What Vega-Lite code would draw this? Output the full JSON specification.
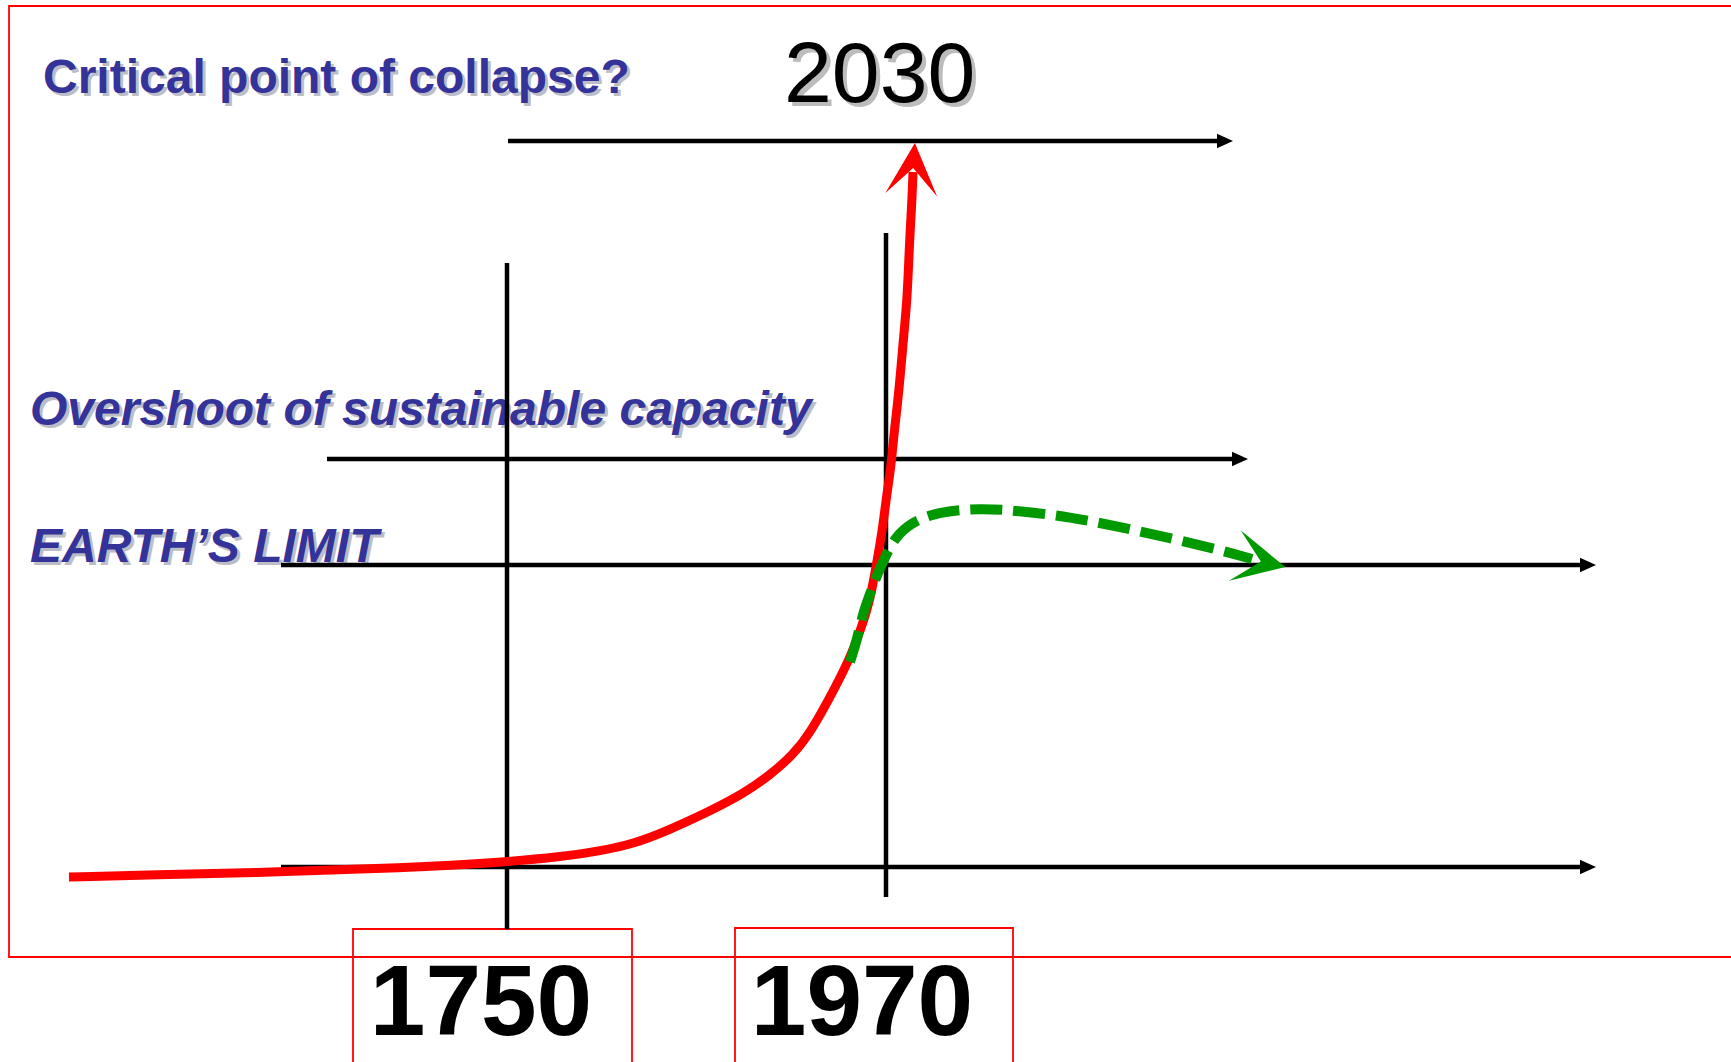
{
  "$schema": "https://vega.github.io/schema/vega-lite/v6.json",
  "width": 1731,
  "height": 1062,
  "autosize": {"type": "fit", "contains": "padding"},
  "padding": 0,
  "background": "white",
  "config": {"view": {"stroke": null}},
  "datasets": {
    "frames": [
      {"box": "slide", "x": 9, "x2": 1780, "y": 6, "y2": 957},
      {"box": "1750", "x": 353, "x2": 632, "y": 929, "y2": 1100},
      {"box": "1970", "x": 735, "x2": 1013, "y": 928, "y2": 1100}
    ],
    "guides": [
      {"line": "2030 level", "x": 508, "x2": 1225, "y": 141, "y2": 141},
      {"line": "overshoot", "x": 327, "x2": 1240, "y": 459, "y2": 459},
      {"line": "earth limit", "x": 281, "x2": 1588, "y": 565, "y2": 565},
      {"line": "baseline", "x": 281, "x2": 1588, "y": 867, "y2": 867},
      {"line": "1750", "x": 507, "x2": 507, "y": 263, "y2": 929},
      {"line": "1970", "x": 886, "x2": 886, "y": 233, "y2": 897}
    ],
    "guideHeads": [
      {"line": "2030 level", "x": 1225, "y": 141},
      {"line": "overshoot", "x": 1240, "y": 459},
      {"line": "earth limit", "x": 1588, "y": 565},
      {"line": "baseline", "x": 1588, "y": 867}
    ],
    "growth": [
      {"i": 0, "x": 69, "y": 877},
      {"i": 1, "x": 150, "y": 875},
      {"i": 2, "x": 280, "y": 872},
      {"i": 3, "x": 400, "y": 868},
      {"i": 4, "x": 507, "y": 862},
      {"i": 5, "x": 560, "y": 857},
      {"i": 6, "x": 600, "y": 851},
      {"i": 7, "x": 633, "y": 844},
      {"i": 8, "x": 667, "y": 831},
      {"i": 9, "x": 710, "y": 811},
      {"i": 10, "x": 743, "y": 794},
      {"i": 11, "x": 770, "y": 775},
      {"i": 12, "x": 793, "y": 755},
      {"i": 13, "x": 810, "y": 733},
      {"i": 14, "x": 828, "y": 701},
      {"i": 15, "x": 850, "y": 659},
      {"i": 16, "x": 863, "y": 623},
      {"i": 17, "x": 870, "y": 600},
      {"i": 18, "x": 876, "y": 567},
      {"i": 19, "x": 882, "y": 533},
      {"i": 20, "x": 886, "y": 500},
      {"i": 21, "x": 891, "y": 467},
      {"i": 22, "x": 894, "y": 433},
      {"i": 23, "x": 898, "y": 400},
      {"i": 24, "x": 901, "y": 367},
      {"i": 25, "x": 904, "y": 333},
      {"i": 26, "x": 907, "y": 300},
      {"i": 27, "x": 908.5, "y": 267},
      {"i": 28, "x": 910, "y": 233},
      {"i": 29, "x": 912, "y": 200},
      {"i": 30, "x": 913, "y": 172}
    ],
    "sustainable": [
      {"i": 0, "x": 850, "y": 662},
      {"i": 1, "x": 857, "y": 640},
      {"i": 2, "x": 863, "y": 613},
      {"i": 3, "x": 869, "y": 597},
      {"i": 4, "x": 875, "y": 580},
      {"i": 5, "x": 881, "y": 566},
      {"i": 6, "x": 887, "y": 553},
      {"i": 7, "x": 895, "y": 538},
      {"i": 8, "x": 910, "y": 523},
      {"i": 9, "x": 937, "y": 512},
      {"i": 10, "x": 980, "y": 508},
      {"i": 11, "x": 1020, "y": 511},
      {"i": 12, "x": 1070, "y": 517},
      {"i": 13, "x": 1120, "y": 527},
      {"i": 14, "x": 1170, "y": 538},
      {"i": 15, "x": 1220, "y": 550},
      {"i": 16, "x": 1252, "y": 559}
    ],
    "redTip": [{"series": "growth", "x": 913, "y": 170}],
    "greenTip": [{"series": "sustainable", "x": 1259, "y": 561}],
    "labels": [
      {"label": "Critical point of collapse?", "x": 43, "y": 93, "kind": "title"},
      {"label": "Overshoot of sustainable capacity", "x": 30, "y": 425, "kind": "level"},
      {"label": "EARTH’S LIMIT", "x": 30, "y": 562, "kind": "level"},
      {"label": "2030", "x": 784, "y": 102, "kind": "future"},
      {"label": "1750", "x": 481, "y": 1035, "kind": "year"},
      {"label": "1970", "x": 862, "y": 1035, "kind": "year"}
    ]
  },
  "layer": [
    {
      "data": {"name": "frames"},
      "mark": {"type": "rect", "fill": null, "fillOpacity": 0, "stroke": "#ff0000", "strokeWidth": 1.8, "clip": true},
      "encoding": {
        "x": {"field": "x", "type": "quantitative", "scale": {"domain": [0, 1731], "nice": false, "zero": false}, "axis": null},
        "x2": {"field": "x2"},
        "y": {"field": "y", "type": "quantitative", "scale": {"domain": [0, 1062], "reverse": true, "nice": false, "zero": false}, "axis": null},
        "y2": {"field": "y2"}
      }
    },
    {
      "data": {"name": "labels"},
      "transform": [{"filter": "datum.kind === 'title'"}],
      "layer": [
        {"mark": {"type": "text", "font": "Liberation Sans", "fontSize": 48, "fontWeight": "bold", "align": "left", "baseline": "alphabetic", "color": "#bdbdc8", "dx": 3, "dy": 3}},
        {"mark": {"type": "text", "font": "Liberation Sans", "fontSize": 48, "fontWeight": "bold", "align": "left", "baseline": "alphabetic", "color": "#333399"}}
      ],
      "encoding": {
        "x": {"field": "x", "type": "quantitative"},
        "y": {"field": "y", "type": "quantitative"},
        "text": {"field": "label"}
      }
    },
    {
      "data": {"name": "labels"},
      "transform": [{"filter": "datum.kind === 'level'"}],
      "layer": [
        {"mark": {"type": "text", "font": "Liberation Sans", "fontSize": 48, "fontWeight": "bold", "fontStyle": "italic", "align": "left", "baseline": "alphabetic", "color": "#bdbdc8", "dx": 3, "dy": 3}},
        {"mark": {"type": "text", "font": "Liberation Sans", "fontSize": 48, "fontWeight": "bold", "fontStyle": "italic", "align": "left", "baseline": "alphabetic", "color": "#333399"}}
      ],
      "encoding": {
        "x": {"field": "x", "type": "quantitative"},
        "y": {"field": "y", "type": "quantitative"},
        "text": {"field": "label"}
      }
    },
    {
      "data": {"name": "labels"},
      "transform": [{"filter": "datum.kind === 'future'"}],
      "layer": [
        {"mark": {"type": "text", "font": "Liberation Sans", "fontSize": 86, "align": "left", "baseline": "alphabetic", "color": "#bcbcbc", "dx": 4, "dy": 4}},
        {"mark": {"type": "text", "font": "Liberation Sans", "fontSize": 86, "align": "left", "baseline": "alphabetic", "color": "#000000"}}
      ],
      "encoding": {
        "x": {"field": "x", "type": "quantitative"},
        "y": {"field": "y", "type": "quantitative"},
        "text": {"field": "label"}
      }
    },
    {
      "data": {"name": "labels"},
      "transform": [{"filter": "datum.kind === 'year'"}],
      "mark": {"type": "text", "font": "Liberation Sans", "fontSize": 100, "fontWeight": "bold", "align": "center", "baseline": "alphabetic", "color": "#000000"},
      "encoding": {
        "x": {"field": "x", "type": "quantitative"},
        "y": {"field": "y", "type": "quantitative"},
        "text": {"field": "label"}
      }
    },
    {
      "data": {"name": "guides"},
      "mark": {"type": "rule", "color": "#000000", "strokeWidth": 4.5},
      "encoding": {
        "x": {"field": "x", "type": "quantitative"},
        "x2": {"field": "x2"},
        "y": {"field": "y", "type": "quantitative"},
        "y2": {"field": "y2"}
      }
    },
    {
      "data": {"name": "guideHeads"},
      "mark": {"type": "point", "shape": "M-1,-0.9L1,0L-1,0.9Z", "size": 256, "filled": true, "color": "#000000", "opacity": 1, "strokeWidth": 0},
      "encoding": {
        "x": {"field": "x", "type": "quantitative"},
        "y": {"field": "y", "type": "quantitative"}
      }
    },
    {
      "data": {"name": "growth"},
      "mark": {"type": "line", "color": "#ff0000", "strokeWidth": 9, "interpolate": "basis", "strokeCap": "butt"},
      "encoding": {
        "x": {"field": "x", "type": "quantitative"},
        "y": {"field": "y", "type": "quantitative"},
        "order": {"field": "i", "type": "quantitative"}
      }
    },
    {
      "data": {"name": "redTip"},
      "mark": {"type": "point", "shape": "M0,-1L0.96,0.92L0,-0.07L-0.96,0.92Z", "size": 2916, "filled": true, "color": "#ff0000", "opacity": 1, "strokeWidth": 0, "angle": 4},
      "encoding": {
        "x": {"field": "x", "type": "quantitative"},
        "y": {"field": "y", "type": "quantitative"}
      }
    },
    {
      "data": {"name": "sustainable"},
      "mark": {"type": "line", "color": "#009900", "strokeWidth": 10, "interpolate": "basis", "strokeDash": [32, 11], "strokeCap": "butt"},
      "encoding": {
        "x": {"field": "x", "type": "quantitative"},
        "y": {"field": "y", "type": "quantitative"},
        "order": {"field": "i", "type": "quantitative"}
      }
    },
    {
      "data": {"name": "greenTip"},
      "mark": {"type": "point", "shape": "M0,-1L0.96,0.92L0,-0.07L-0.96,0.92Z", "size": 2916, "filled": true, "color": "#009900", "opacity": 1, "strokeWidth": 0, "angle": 103},
      "encoding": {
        "x": {"field": "x", "type": "quantitative"},
        "y": {"field": "y", "type": "quantitative"}
      }
    }
  ]
}
